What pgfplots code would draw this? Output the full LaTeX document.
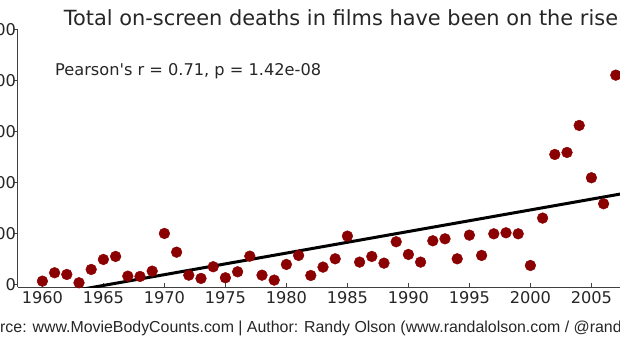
\documentclass[border=0pt]{standalone}
\usepackage{pgfplots}
\pgfplotsset{compat=1.18}
\usepackage{fontspec}
\setmainfont{DejaVu Sans}
\newfontfamily\plainfont{DejaVu Sans}
\newfontfamily\srcfont{Liberation Sans}
\definecolor{dotred}{RGB}{139,0,0}
\pgfplotstableread{
year deaths
1960 65
1961 229
1962 196
1963 33
1964 294
1965 490
1966 549
1967 163
1968 157
1969 261
1970 1000
1971 633
1972 182
1973 118
1974 347
1975 131
1976 248
1977 555
1978 182
1979 85
1980 392
1981 569
1982 176
1983 340
1984 503
1985 948
1986 438
1987 549
1988 418
1989 837
1990 588
1991 438
1992 856
1993 895
1994 503
1995 967
1996 569
1997 993
1998 1013
1999 993
2000 372
2001 1301
2002 2549
2003 2588
2004 3118
2005 2092
2006 1582
2007 4104
}\deaths
\begin{document}
\begin{tikzpicture}
\useasboundingbox (0pt,0pt) rectangle (620pt,359pt);
\clip (0pt,0pt) rectangle (620pt,359pt);
\begin{axis}[
  at={(18pt,72pt)}, anchor=south west,
  x=12.2pt, y=0.051pt,
  xmin=1958, xmax=2010, ymin=-50, ymax=5000,
  axis x line*=bottom, axis y line*=left,
  axis line style={black!75, line width=1pt},
  xtick={1960,1965,...,2005}, ytick={0,1000,...,5000},
  tick align=inside,
  major tick length=4pt,
  tick style={black!75, line width=0.8pt},
  ytick style={xshift=-4pt},
  /pgf/number format/.cd, set thousands separator={}, assume math mode=true,
  /pgfplots/.cd,
  ticklabel style={font=\fontsize{16.2}{19}\selectfont, text=black!85},
  xticklabel style={yshift=-1pt},
  yticklabel style={xshift=1.5pt},
  clip marker paths=false,
]
\addplot[only marks, mark=*, mark size=5.4pt, color=dotred, mark options={draw=dotred, fill=dotred}] table[x=year, y=deaths] {\deaths};
\addplot[black, line width=3pt] coordinates {(1957,-358) (2013,2011)};
\end{axis}
\node[font=\fontsize{20.9}{25}\selectfont, text=black!85] at (341pt,341pt) {Total on-screen deaths in films have been on the rise};
\node[anchor=base west, inner sep=0pt, font=\plainfont\fontsize{16.2}{19}\selectfont, text=black!85] at (55pt,283pt) {Pearson's r = 0.71, p = 1.42e-08};
\node[anchor=base west, inner sep=0pt, font=\srcfont\fontsize{15.9}{19}\selectfont, text=black!85] at (0pt,27pt) {\llap{Data sou}rce: www.MovieBodyCounts.com | Author: Randy Olson (www.randalolson.com / @randal\_olson)};
\end{tikzpicture}
\end{document}
